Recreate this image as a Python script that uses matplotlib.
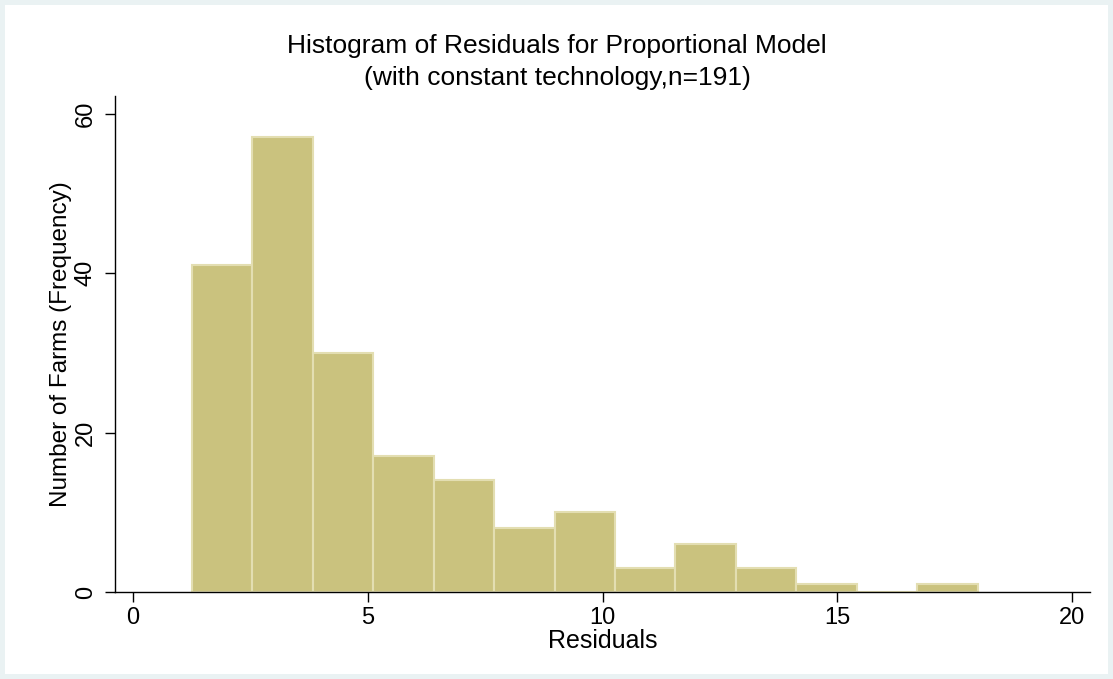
import matplotlib
matplotlib.use("Agg")
import matplotlib.pyplot as plt
import numpy as np
from matplotlib.patches import Rectangle

plt.rcParams["font.family"] = ["Liberation Sans", "DejaVu Sans"]

# histogram bins (residuals)
bin_start = 1.257
bin_width = 1.287
counts = [41, 57, 30, 17, 14, 8, 10, 3, 6, 3, 1, 0, 1]
x_ticks = [0, 5, 10, 15, 20]
y_ticks = [0, 20, 40, 60]

fig = plt.figure(figsize=(11.13, 6.79), dpi=100)
fig.patch.set_facecolor("#eaf2f3")
fig.add_artist(Rectangle((5 / 1113, 5 / 679), 1 - 10 / 1113, 1 - 10 / 679,
                         transform=fig.transFigure, facecolor="white",
                         edgecolor="none", zorder=-10))

ax = fig.add_axes([115 / 1113, 1 - 592 / 679, (1090 - 115) / 1113, (592 - 96) / 679])
ax.set_facecolor("none")

left = bin_start + bin_width * np.arange(len(counts))
ax.bar(left, counts, width=bin_width, align="edge", color="#cac27e",
       edgecolor="#e3deb2", linewidth=1.5)

ax.set_xlim(-0.38, 20.38)
ax.set_ylim(0, 62.2)
ax.set_xticks(x_ticks)
ax.set_yticks(y_ticks)
ax.tick_params(labelsize=17, length=7, width=1, color="black", pad=4)
ax.tick_params(axis="y", pad=6)
for lab in ax.get_yticklabels():
    lab.set_rotation(90)
    lab.set_va("center")
for s in ["top", "right"]:
    ax.spines[s].set_visible(False)
for s in ["left", "bottom"]:
    ax.spines[s].set_linewidth(1)

ax.set_xlabel("Residuals", fontsize=18, labelpad=0)
ax.set_ylabel("Number of Farms (Frequency)", fontsize=17.5, labelpad=2)

fig.text(557 / 1113, 1 - 62 / 679,
         "Histogram of Residuals for Proportional Model\n(with constant technology,n=191)",
         ha="center", va="center", fontsize=19, linespacing=1.4)

fig.savefig("out.png", dpi=100)
